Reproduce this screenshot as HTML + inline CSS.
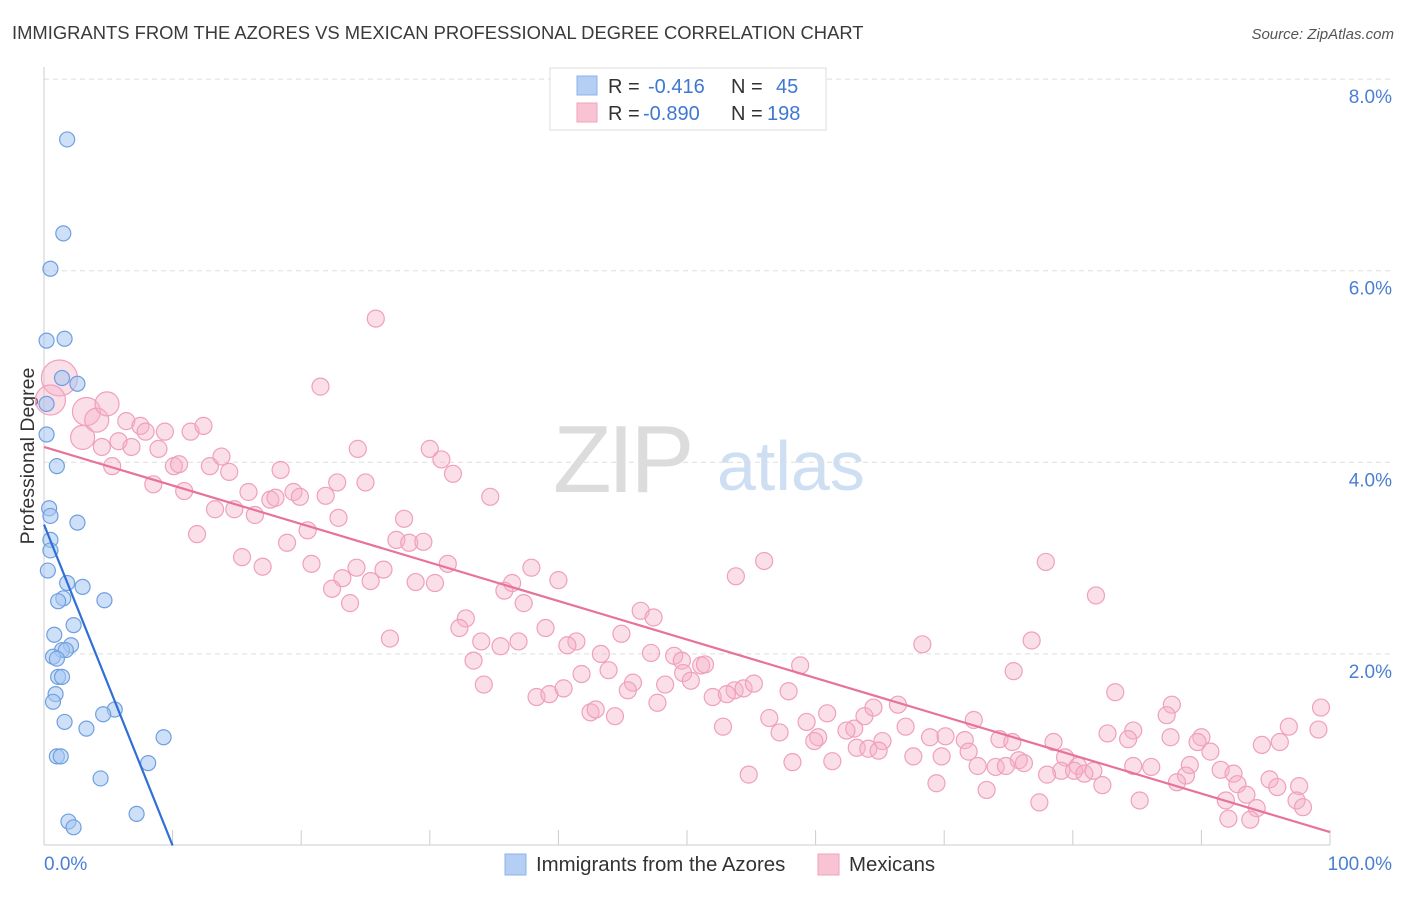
<!DOCTYPE html>
<html><head><meta charset="utf-8"><style>
body{margin:0;background:#fff;font-family:"Liberation Sans",sans-serif;}
svg text{font-family:"Liberation Sans",sans-serif;}
</style></head><body>
<svg id="chart" width="1406" height="892" xmlns="http://www.w3.org/2000/svg">
<text x="12" y="39" font-size="18.4" fill="#3a3a3a">IMMIGRANTS FROM THE AZORES VS MEXICAN PROFESSIONAL DEGREE CORRELATION CHART</text>
<text x="1394" y="39" font-size="15" fill="#555" font-style="italic" text-anchor="end">Source: ZipAtlas.com</text>
<g>
<text x="553" y="492" font-size="96" fill="#dcdcdc" font-family="Liberation Serif" letter-spacing="-4">ZIP</text>
<text x="717" y="490" font-size="70" fill="#cfdff3">atlas</text>
</g>
<g id="grid"></g>
<g id="axes"></g>
<text transform="translate(34,456) rotate(-90)" font-size="19.5" fill="#333" text-anchor="middle">Professional Degree</text>
<g id="pink"></g>
<g id="blue"></g>
<g id="lines"></g>
<g>
<rect x="550" y="68" width="276" height="62" fill="#fff" stroke="#ddd"/>
<rect x="577" y="76" width="20" height="19" fill="#b4cff3" stroke="#8db3e8"/>
<rect x="577" y="103" width="20" height="19" fill="#f8c3d3" stroke="#f0a3bb"/>
<text x="608" y="93" font-size="20" fill="#333">R = </text><text x="648" y="93" font-size="20" fill="#3f78d0">-0.416</text>
<text x="731" y="93" font-size="20" fill="#333">N = </text><text x="776" y="93" font-size="20" fill="#3f78d0">45</text>
<text x="608" y="120" font-size="20" fill="#333">R = </text><text x="643" y="120" font-size="20" fill="#3f78d0">-0.890</text>
<text x="731" y="120" font-size="20" fill="#333">N = </text><text x="767" y="120" font-size="20" fill="#3f78d0">198</text>
</g>
<g>
<rect x="505" y="854" width="21" height="21" fill="#b4cff3" stroke="#8db3e8"/>
<text x="536" y="871" font-size="20.4" fill="#333">Immigrants from the Azores</text>
<rect x="818" y="854" width="21" height="21" fill="#f8c3d3" stroke="#f0a3bb"/>
<text x="849" y="871" font-size="20.4" fill="#333">Mexicans</text>
</g>
</svg>
<script>
const yTicks=[2,4,6,8];
const yTickLabels=["2.0%","4.0%","6.0%","8.0%"];
const xTicks=[0,10,20,30,40,50,60,70,80,90,100];
const blueX=[1.8,1.5,0.5,1.6,0.2,1.4,2.6,0.2,0.2,1.0,0.4,0.5,2.6,0.5,0.5,0.3,1.8,3.0,1.5,1.1,4.7,0.8,2.3,2.1,1.4,1.7,0.7,1.0,1.1,1.4,0.9,0.7,5.5,4.6,1.6,3.3,9.3,1.0,1.3,8.1,4.4,7.2,1.9,2.3];
const blueY=[7.37,6.39,6.02,5.29,5.27,4.88,4.82,4.61,4.29,3.96,3.52,3.44,3.37,3.19,3.08,2.87,2.74,2.70,2.58,2.55,2.56,2.20,2.30,2.09,2.04,2.04,1.97,1.95,1.76,1.76,1.58,1.50,1.42,1.37,1.29,1.22,1.13,0.93,0.93,0.86,0.70,0.33,0.25,0.19];
const pinkX=[25.8,21.5,1.2,0.5,3.3,3.0,4.1,4.9,6.4,7.5,7.9,9.4,11.4,12.4,5.8,4.5,6.8,8.9,24.4,30.0,30.9,31.8,5.3,10.1,10.5,12.9,13.8,14.4,18.4,8.5,10.9,22.8,25.0,34.7,15.9,19.4,13.3,14.8,16.4,17.6,18.0,19.9,21.9,11.9,22.9,28.0,20.5,18.9,27.4,28.4,29.5,15.4,17.0,20.8,24.3,31.4,23.2,26.4,25.4,28.9,30.4,36.4,37.9,40.0,56.0,53.8,77.9,22.4,23.8,35.8,37.3,81.8,32.8,32.3,46.4,47.4,26.9,34.0,35.5,36.9,39.0,41.4,40.7,44.9,68.3,76.8,33.4,43.3,47.2,49.0,49.6,51.1,51.4,58.8,34.2,38.3,39.3,40.4,41.8,43.9,45.8,45.4,48.3,49.7,50.3,53.7,54.4,55.2,75.4,52.0,53.1,57.9,47.7,42.5,42.9,44.4,83.3,87.7,87.3,99.3,56.4,59.3,60.9,63.0,63.8,64.5,66.4,67.0,72.3,96.8,52.8,57.2,60.2,62.4,59.9,65.2,68.9,70.1,71.6,74.3,75.3,82.7,84.7,84.3,87.6,90.0,89.7,99.1,96.1,94.7,90.7,78.5,63.2,64.1,64.9,71.9,67.6,69.8,75.8,79.4,80.4,79.1,80.1,80.9,81.6,78.0,86.1,84.7,76.2,89.1,88.8,91.5,92.5,92.8,95.3,97.6,58.2,61.3,72.6,74.0,74.8,54.8,69.4,73.3,77.4,82.3,85.2,88.1,91.9,93.5,94.3,95.9,97.4,97.9,93.8,92.1];
const pinkY=[5.50,4.79,4.88,4.65,4.53,4.26,4.44,4.61,4.43,4.38,4.32,4.32,4.32,4.38,4.22,4.16,4.16,4.14,4.14,4.14,4.03,3.88,3.96,3.96,3.98,3.96,4.06,3.90,3.92,3.77,3.70,3.79,3.79,3.64,3.69,3.69,3.51,3.51,3.45,3.61,3.63,3.64,3.65,3.25,3.42,3.41,3.29,3.16,3.19,3.16,3.17,3.01,2.91,2.94,2.90,2.94,2.79,2.88,2.76,2.75,2.74,2.74,2.90,2.77,2.97,2.81,2.96,2.68,2.53,2.66,2.53,2.61,2.37,2.27,2.45,2.38,2.16,2.13,2.08,2.13,2.27,2.13,2.09,2.21,2.10,2.14,1.93,2.00,2.01,1.98,1.93,1.88,1.89,1.88,1.68,1.55,1.58,1.64,1.79,1.83,1.70,1.62,1.68,1.80,1.72,1.62,1.64,1.69,1.82,1.55,1.58,1.61,1.49,1.39,1.42,1.35,1.60,1.47,1.36,1.44,1.33,1.29,1.38,1.22,1.35,1.44,1.47,1.24,1.31,1.24,1.24,1.18,1.13,1.20,1.09,1.09,1.13,1.14,1.10,1.11,1.08,1.17,1.20,1.11,1.13,1.13,1.08,1.21,1.08,1.05,0.98,1.08,1.02,1.01,0.99,0.98,0.93,0.93,0.89,0.92,0.83,0.78,0.78,0.75,0.78,0.74,0.82,0.83,0.86,0.84,0.73,0.79,0.75,0.64,0.69,0.62,0.87,0.88,0.83,0.82,0.83,0.74,0.65,0.58,0.45,0.63,0.47,0.66,0.47,0.53,0.39,0.61,0.47,0.40,0.27,0.28];
const pinkBig=[0,0,18,15,14,12,12,12,0,0,0,0,0,0,0,0,0,0,0,0,0,0,0];
const blueTrend=[3.35,0.0,10.0];
const pinkTrend=[4.16,0.14];
const NS="http://www.w3.org/2000/svg";
const X0=44,X1=1330,Y0=845.5,PPU=95.8;
function sx(v){return X0+(X1-X0)*v/100;}
function sy(v){return Y0-v*PPU;}
function mk(tag,attrs,parent){const e=document.createElementNS(NS,tag);for(const k in attrs)e.setAttribute(k,attrs[k]);parent.appendChild(e);return e;}
const grid=document.getElementById('grid'),axes=document.getElementById('axes');
yTicks.forEach((t,i)=>{
 const l=mk('line',{x1:44,x2:1392,y1:sy(t),y2:sy(t),stroke:'#ddd','stroke-dasharray':'5,4'},grid);
 
 
 const tx=mk('text',{x:1392,y:sy(t)+24,'font-size':19,fill:'#4a7fd4','text-anchor':'end'},axes);
 tx.textContent=yTickLabels[i];
 
 
});
mk('line',{x1:44,x2:44,y1:67,y2:845,stroke:'#ccc'},axes);
mk('line',{x1:44,x2:1330,y1:845,y2:845,stroke:'#ccc'},axes);
xTicks.forEach(t=>{const l=mk('line',{x1:sx(t),x2:sx(t),y1:830,y2:845,stroke:'#ccc'},axes);
 
 });
let a=mk('text',{x:44,y:870,'font-size':19,fill:'#4a7fd4'},axes);a.textContent='0.0%';


a=mk('text',{x:1392,y:870,'font-size':19,fill:'#4a7fd4','text-anchor':'end'},axes);a.textContent='100.0%';


const pg=document.getElementById('pink');
pinkX.forEach((x,i)=>{const r=pinkBig[i]||8.5;
 const c=mk('circle',{cx:sx(x),cy:sy(pinkY[i]),r:r,fill:'rgba(246,175,198,0.4)',stroke:'#f0a0ba','stroke-width':1.2},pg);
 
 });
const bg=document.getElementById('blue');
blueX.forEach((x,i)=>{
 const c=mk('circle',{cx:sx(x),cy:sy(blueY[i]),r:7.5,fill:'rgba(165,198,242,0.55)',stroke:'#6f9fe0','stroke-width':1.2},bg);
 
 });
const lg=document.getElementById('lines');
let bl=mk('line',{x1:sx(0),y1:sy(blueTrend[0]),x2:sx(blueTrend[2]),y2:sy(blueTrend[1]),stroke:'#2f6fd6','stroke-width':2.2},lg);


let pl=mk('line',{x1:sx(0),y1:sy(pinkTrend[0]),x2:sx(100),y2:sy(pinkTrend[1]),stroke:'#e8739a','stroke-width':2.2},lg);


</script>
</body></html>
